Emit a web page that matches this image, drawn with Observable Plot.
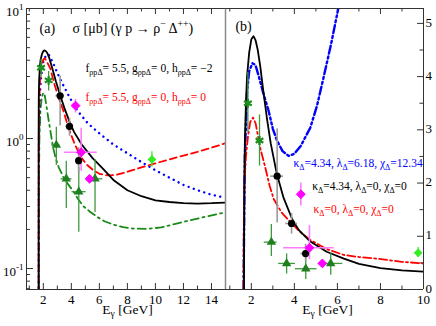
<!DOCTYPE html>
<html><head><meta charset="utf-8">
<script src="https://cdn.jsdelivr.net/npm/d3@7"></script>
<script src="https://cdn.jsdelivr.net/npm/@observablehq/plot@0.6"></script>
<style>
html,body{margin:0;padding:0;background:#fff;}
#chart{position:relative;width:436px;height:326px;overflow:hidden;}
#chart svg{position:absolute;top:0;}
#chart svg, #chart svg text, #chart svg tspan{font-family:"Liberation Serif","Times New Roman","DejaVu Serif",serif !important;}
</style></head><body><div id="chart"></div>
<script>
// ---------- tick values ----------
const xMajorA = [2, 4, 6, 8, 10, 12, 14];
const xMinorA = [1, 3, 5, 7, 9, 11, 13];
const yMajorA = [0.1, 1, 10];
const yMinorA = [0.07, 0.08, 0.09, 0.2, 0.3, 0.4, 0.5, 0.6, 0.7, 0.8, 0.9, 2, 3, 4, 5, 6, 7, 8, 9];
const xMajorB = [2, 4, 6, 8, 10];
const xMinorB = [1, 3, 5, 7, 9];
const yMajorB = [0, 1, 2, 3, 4, 5];
const yMinorB = [0.5, 1.5, 2.5, 3.5, 4.5];

// ---------- model curves [E_gamma (GeV), sigma (mub)] ----------
const curveBlack = [[1.66,0.02],[1.665,1.0],[1.675,2.0],[1.70,2.8],[1.75,3.5],[1.80,4.0],[1.90,4.45],[2.00,4.7],[2.10,4.76],[2.20,4.68],[2.30,4.5],[2.42,4.18],[2.55,3.75],[2.73,3.2],[2.90,2.75],[3.12,2.3],[3.20,2.15],[3.50,1.72],[3.90,1.32],[4.20,1.12],[4.74,0.9],[5.50,0.71],[6.30,0.58],[7.00,0.48],[8.00,0.40],[9.00,0.36],[10.0,0.335],[11.0,0.325],[12.0,0.318],[13.0,0.316],[14.0,0.318],[15.0,0.322]];
const curveRedA = [[1.67,0.02],[1.68,1.0],[1.71,2.0],[1.78,3.0],[1.88,3.7],[2.0,4.05],[2.1,4.15],[2.2,4.0],[2.5,3.45],[2.8,2.6],[3.1,2.05],[3.43,1.64],[3.8,1.2],[4.2,0.93],[4.64,0.73],[5.1,0.63],[5.57,0.57],[6.0,0.535],[6.6,0.52],[7.2,0.525],[8.0,0.555],[9.0,0.6],[10.0,0.645],[11.0,0.69],[12.0,0.74],[13.0,0.79],[14.0,0.85],[15.0,0.92]];
const curveBlueA = [[1.67,0.02],[1.69,1.0],[1.74,2.0],[1.84,3.0],[2.0,3.9],[2.2,4.4],[2.4,4.4],[2.7,3.8],[3.0,3.2],[3.36,2.65],[3.9,2.05],[4.43,1.64],[5.2,1.3],[6.07,1.08],[7.0,0.9],[8.0,0.77],[9.0,0.66],[10.0,0.57],[11.0,0.5],[12.0,0.44],[13.0,0.4],[14.0,0.37],[15.0,0.35]];
const curveGreenA = [[1.68,0.02],[1.69,0.5],[1.72,1.0],[1.8,1.7],[1.9,2.1],[2.0,2.25],[2.1,2.15],[2.2,1.85],[2.35,1.45],[2.5,1.15],[2.7,0.85],[2.86,0.72],[3.1,0.6],[3.45,0.5],[3.8,0.44],[4.16,0.39],[4.5,0.34],[4.88,0.3],[5.3,0.275],[5.83,0.25],[6.4,0.23],[7.0,0.218],[7.7,0.208],[8.4,0.203],[9.4,0.202],[10.4,0.207],[11.8,0.226],[13.2,0.245],[14.6,0.265],[15.0,0.27]];
const curveRedB = [[1.64,0.02],[1.65,1.0],[1.68,2.0],[1.75,2.5],[1.85,2.9],[1.95,3.15],[2.08,3.23],[2.2,3.12],[2.42,2.65],[2.65,2.29],[2.85,1.95],[3.04,1.7],[3.4,1.45],[3.81,1.27],[4.3,1.07],[4.74,0.93],[5.5,0.76],[6.29,0.65],[7.0,0.61],[7.84,0.58],[9.0,0.52],[10.0,0.49]];
const curveBlueB = [[1.64,0.02],[1.66,1.0],[1.7,2.5],[1.8,3.7],[1.9,4.1],[2.05,4.25],[2.19,4.22],[2.35,4.0],[2.55,3.7],[2.8,3.36],[3.0,3.02],[3.19,2.8],[3.45,2.6],[3.73,2.51],[4.0,2.55],[4.3,2.7],[4.74,3.04],[5.05,3.45],[5.36,3.99],[5.7,4.6],[5.99,5.18],[6.2,5.6]];

// ---------- data points ----------
const blackE = [3.2, 3.87, 4.52], blackS = [2.13, 1.24, 0.675];
const blackSLo = [1.25, 1.04, 0.53], blackSHi = [3.02, 1.43, 0.85];
const blackELo = [2.9, 3.6, 4.3], blackEHi = [3.5, 4.15, 4.75];

const magE = [4.3, 4.7, 5.3], magS = [1.79, 0.785, 0.49];
const magSLo = [1.57, 0.56, 0.46], magSHi = [2.0, 1.2, 0.52];
const magELo = [4.2, 3.5, 5.2], magEHi = [4.4, 5.85, 5.4];

const triE = [2.93, 3.64, 4.53, 5.69], triS = [0.89, 0.49, 0.39, 0.49];
const triSLo = [0.62, 0.29, 0.19, 0.27], triSHi = [1.22, 0.67, 0.6, 0.69];
const triELo = [2.6, 3.27, 4.05, 5.2], triEHi = [3.2, 4.05, 5.05, 6.25];

const starE = [1.84, 2.38], starS = [3.5, 2.8];
const starSLo = [2.95, 2.32], starSHi = [4.08, 3.28];
const starELo = [1.78, 2.26], starEHi = [1.9, 2.5];

const limeE = [9.75], limeS = [0.69];
const limeSLo = [0.6], limeSHi = [0.79];

// ---------- helpers ----------
const rows = (E, S, sLo, sHi, eLo, eHi) => E.map((e, i) => ({e, s: S[i], sLo: sLo[i], sHi: sHi[i], eLo: eLo ? eLo[i] : e, eHi: eHi ? eHi[i] : e}));
const black = rows(blackE, blackS, blackSLo, blackSHi, blackELo, blackEHi);
const mag = rows(magE, magS, magSLo, magSHi, magELo, magEHi);
const tri = rows(triE, triS, triSLo, triSHi, triELo, triEHi);
const star = rows(starE, starS, starSLo, starSHi, starELo, starEHi);
const lime = rows(limeE, limeS, limeSLo, limeSHi, null, null);

const AX = "#333", DIV = "#8a8a8a";
const FONT = "'Liberation Serif', 'Times New Roman', 'DejaVu Serif', serif";
const H = 326, mT = 8, mB = 37, innerH = H - mT - mB;

function line(data, o) {
  return Plot.line(data, {x: d => d[0], y: d => d[1], clip: true, strokeWidth: 1.8, ...o});
}
function pointMarks() {
  const m = [];
  const err = (data, stroke, w) => [
    Plot.ruleX(data, {x: "e", y1: "sLo", y2: "sHi", stroke, strokeWidth: w, clip: true}),
    Plot.ruleY(data.filter(d => d.eHi > d.eLo), {y: "s", x1: "eLo", x2: "eHi", stroke, strokeWidth: w, clip: true})
  ];
  m.push(...err(tri, "#3e9a3e", 1.3));
  m.push(...err(star, "#3e9a3e", 1.3));
  m.push(...err(black, "#9a9a9a", 1.6));
  m.push(...err(mag, "#ff7cff", 1.6));
  m.push(...err(lime, "#33ee22", 1.3));
  m.push(Plot.dot(tri, {x: "e", y: "s", symbol: "triangle", r: 3.5, fill: "#1f7f1f", clip: true}));
  m.push(Plot.dot(star, {x: "e", y: "s", symbol: "asterisk", r: 4.2, stroke: "#1f8f1f", strokeWidth: 2.2, clip: true}));
  m.push(Plot.dot(black, {x: "e", y: "s", symbol: "circle", r: 3.6, fill: "#000", clip: true}));
  m.push(Plot.dot(mag, {x: "e", y: "s", symbol: "diamond2", r: 4.0, fill: "#ff00ff", stroke: "#ff00ff", strokeWidth: 1, clip: true}));
  m.push(Plot.dot(lime, {x: "e", y: "s", symbol: "diamond2", r: 3.0, fill: "#33ee22", stroke: "#33ee22", clip: true}));
  return m;
}

// ---------- panel (a) ----------
const innerWA = 225 - 26;
const plotA = Plot.plot({
  width: 226, height: H, marginLeft: 26, marginRight: 1, marginTop: mT, marginBottom: mB,
  style: {background: "transparent", fontFamily: FONT, overflow: "visible", color: "#000"},
  x: {domain: [0.8, 15]},
  y: {type: "log", domain: [0.069, 10]},
  marks: [
    Plot.axisX({ticks: xMajorA, tickSize: 0, tickPadding: 5, fontSize: 13, label: null, tickFormat: d => String(d)}),
    Plot.axisY({ticks: yMajorA, tickSize: 0, tickPadding: 3, fontSize: 13, label: null, dy: 3,
      tickFormat: d => "10^{" + Math.round(Math.log10(d)) + "}"}),
    Plot.tickX(xMajorA, {x: d => d, insetTop: innerH - 6, stroke: AX}),
    Plot.tickX(xMajorA, {x: d => d, insetBottom: innerH - 6, stroke: AX}),
    Plot.tickX(xMinorA, {x: d => d, insetTop: innerH - 3.5, stroke: AX}),
    Plot.tickX(xMinorA, {x: d => d, insetBottom: innerH - 3.5, stroke: AX}),
    Plot.tickY(yMajorA, {y: d => d, insetRight: innerWA - 7, stroke: AX}),
    Plot.tickY(yMinorA, {y: d => d, insetRight: innerWA - 4, stroke: AX}),
    line(curveGreenA, {stroke: "#178a17", strokeDasharray: "8,4,2,4"}),
    line(curveBlueA, {stroke: "#0000ff", strokeWidth: 2.4, strokeDasharray: "0.01,5.5", strokeLinecap: "round"}),
    line(curveRedA, {stroke: "#ff0000", strokeDasharray: "7,4"}),
    line(curveBlack, {stroke: "#000"}),
    ...pointMarks(),
    Plot.ruleX([0.8], {stroke: AX}),
    Plot.ruleY([10], {stroke: AX}),
    Plot.ruleY([0.069], {stroke: AX}),
    Plot.ruleX([15], {stroke: DIV, strokeWidth: 1.5}),
    Plot.text(["(a)"], {x: 1.73, y: 7.0, textAnchor: "start", fontSize: 14}),
    Plot.text(["σ [μb] (γ p → ρ^{−} Δ^{++})"], {x: 4.08, y: 7.0, textAnchor: "start", fontSize: 14}),
    Plot.text(["f_{ρpΔ}= 5.5, g_{ρpΔ}= 0, h_{ρpΔ}= −2"], {x: 5.01, y: 3.49, textAnchor: "start", fontSize: 11.5, fill: "#000"}),
    Plot.text(["f_{ρpΔ}= 5.5, g_{ρpΔ}= 0, h_{ρpΔ}= 0"], {x: 5.01, y: 2.085, textAnchor: "start", fontSize: 11.5, fill: "#ff0000"}),
    Plot.text(["E_{γ} [GeV]"], {frameAnchor: "bottom", dy: 24, dx: 1.5, fontSize: 13.5})
  ]
});

// ---------- panel (b) ----------
const innerWB = 423 - 225;
const plotB = Plot.plot({
  width: 211, height: H, marginLeft: 0, marginRight: 13, marginTop: mT, marginBottom: mB,
  style: {background: "transparent", fontFamily: FONT, overflow: "visible", color: "#000"},
  x: {domain: [0.8, 10]},
  y: {domain: [0, 5.28]},
  marks: [
    Plot.axisX({ticks: xMajorB, tickSize: 0, tickPadding: 5, fontSize: 13, label: null, tickFormat: d => String(d)}),
    Plot.axisY({anchor: "right", ticks: yMajorB, tickSize: 0, tickPadding: 2, fontSize: 13, label: null, dy: -1, tickFormat: d => String(d)}),
    Plot.tickX(xMajorB, {x: d => d, insetTop: innerH - 6, stroke: AX}),
    Plot.tickX(xMajorB, {x: d => d, insetBottom: innerH - 6, stroke: AX}),
    Plot.tickX(xMinorB, {x: d => d, insetTop: innerH - 3.5, stroke: AX}),
    Plot.tickX(xMinorB, {x: d => d, insetBottom: innerH - 3.5, stroke: AX}),
    Plot.tickY(yMajorB, {y: d => d, insetLeft: innerWB - 6, stroke: AX}),
    Plot.tickY(yMinorB, {y: d => d, insetLeft: innerWB - 3.5, stroke: AX}),
    line(curveBlueB, {stroke: "#0000ff", strokeWidth: 2.4, strokeDasharray: "8,3,2,3,2,3"}),
    line(curveRedB, {stroke: "#ff0000", strokeDasharray: "8,3,2,3"}),
    line(curveBlack, {stroke: "#000"}),
    ...pointMarks(),
    Plot.ruleX([10], {stroke: AX}),
    Plot.ruleY([5.28], {stroke: AX}),
    Plot.ruleY([0], {stroke: AX}),
    Plot.text(["(b)"], {x: 1.26, y: 4.94, textAnchor: "start", fontSize: 14}),
    Plot.text(["κ_{Δ}=4.34, λ_{Δ}=6.18, χ_{Δ}=12.34"], {x: 3.96, y: 2.38, textAnchor: "start", fontSize: 11.5, fill: "#0000ff"}),
    Plot.text(["κ_{Δ}=4.34, λ_{Δ}=0, χ_{Δ}=0"], {x: 4.83, y: 1.94, textAnchor: "start", fontSize: 11.5, fill: "#000"}),
    Plot.text(["κ_{Δ}=0, λ_{Δ}=0, χ_{Δ}=0"], {x: 4.89, y: 1.51, textAnchor: "start", fontSize: 11.5, fill: "#ff0000"}),
    Plot.text(["E_{γ} [GeV]"], {frameAnchor: "bottom", dy: 24, dx: 3, fontSize: 13.5})
  ]
});

const chart = document.getElementById("chart");
plotA.style.left = "0px";
plotB.style.left = "225px";
chart.appendChild(plotA);
chart.appendChild(plotB);

// ---------- sub/superscript rendering for text ----------
const SVGNS = "http://www.w3.org/2000/svg";
function rich(el) {
  const s = el.textContent;
  if (!/[_^]\{/.test(s)) return;
  const fs = parseFloat(getComputedStyle(el).fontSize) || 12;
  const parts = [];
  let i = 0, buf = "";
  while (i < s.length) {
    if ((s[i] === "_" || s[i] === "^") && s[i + 1] === "{") {
      if (buf) parts.push({t: buf, m: 0});
      buf = "";
      const j = s.indexOf("}", i);
      parts.push({t: s.slice(i + 2, j), m: s[i] === "_" ? 1 : -1});
      i = j + 1;
    } else { buf += s[i]; i++; }
  }
  if (buf) parts.push({t: buf, m: 0});
  while (el.firstChild) el.removeChild(el.firstChild);
  let cur = 0;
  for (const p of parts) {
    const target = p.m === 1 ? fs * 0.28 : p.m === -1 ? -fs * 0.42 : 0;
    const ts = document.createElementNS(SVGNS, "tspan");
    if (target !== cur) ts.setAttribute("dy", (target - cur).toFixed(2));
    cur = target;
    if (p.m) ts.setAttribute("font-size", (fs * 0.7).toFixed(2));
    ts.textContent = p.t;
    el.appendChild(ts);
  }
}
chart.querySelectorAll("text").forEach(rich);
</script></body></html>
